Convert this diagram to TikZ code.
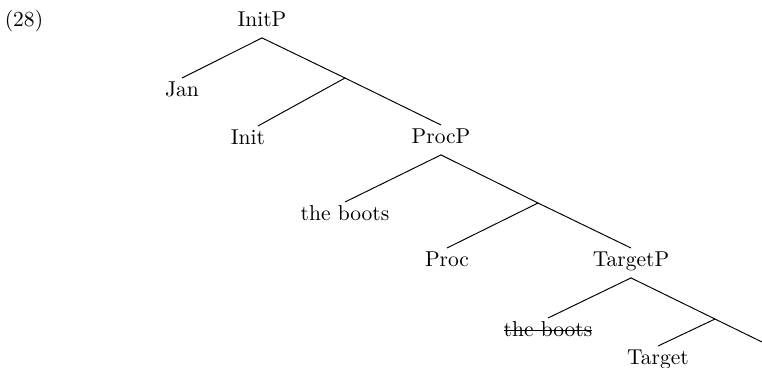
\documentclass[tikz,border=0pt]{standalone}
% struck-out copy of a moved phrase
\newcommand{\struckout}[1]{\setbox0\hbox{#1}\rlap{\copy0}\rule[2.6pt]{\wd0}{0.4pt}}
\begin{document}
\begin{tikzpicture}[
        x=0.465pt, y=-0.465pt,
        cat/.style={anchor=north, inner sep=1pt, text height=7.4pt, text depth=4.1pt},
        branch/.style={line width=0.45pt}
      ]

        \useasboundingbox (0,0) rectangle (762,367);

% Example number
        \node[cat] (exnum) at (24,8) {(28)};

% Categories and words
        \node[cat] (initp)   at (262,8)   {InitP};
        \node[cat] (jan)     at (182,78)  {Jan};
        \node[cat] (init)    at (248,126) {Init};
        \node[cat] (procp)   at (441,125) {ProcP};
        \node[cat] (boots)   at (345,202) {the boots};
        \node[cat] (proc)    at (447,248) {Proc};
        \node[cat] (targetp) at (631,248) {TargetP};
        \node[cat] (copy)    at (548,318) {\struckout{the boots}};
        \node[cat] (target)  at (658,346) {Target};

% Unlabelled branching points
        \coordinate (b1) at (345,78);
        \coordinate (b2) at (538,203);
        \coordinate (b3) at (715,319);
        \coordinate (tail) at (762,342);

% Branches
        \draw[branch] (initp.south) -- (jan.north);
        \draw[branch] (initp.south) -- (b1);
        \draw[branch] (b1) -- ([xshift=4.6pt]init.north);
        \draw[branch] (b1) -- (procp.north);
        \draw[branch] (procp.south) -- (boots.north);
        \draw[branch] (procp.south) -- (b2);
        \draw[branch] (b2) -- (proc.north);
        \draw[branch] (b2) -- (targetp.north);
        \draw[branch] (targetp.south) -- (copy.north);
        \draw[branch] (targetp.south) -- (b3);
        \draw[branch] (b3) -- (target.north);
        \draw[branch] (b3) -- (tail);

      \end{tikzpicture}
\end{document}
